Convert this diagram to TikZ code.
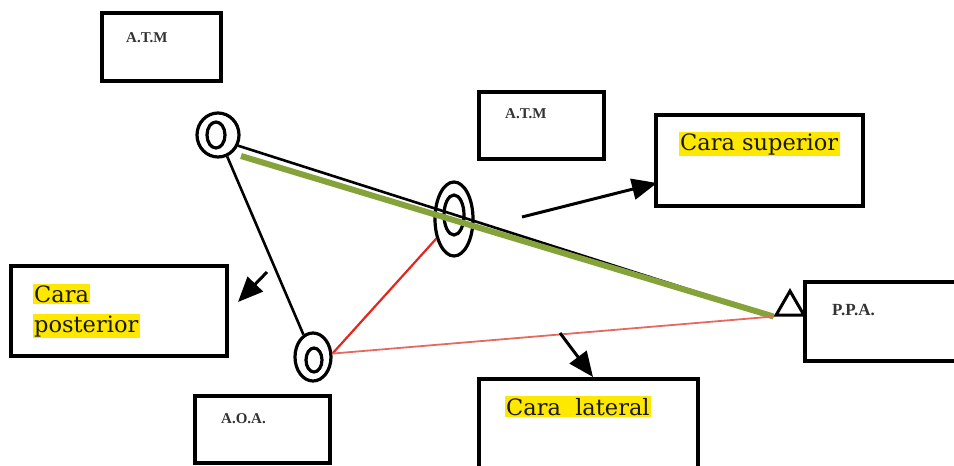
\documentclass[tikz,border=0pt]{standalone}
\usepackage{fontspec}
\setmainfont{Liberation Serif}
\newfontfamily\caraface{DejaVu Serif}
\usetikzlibrary{shapes.geometric,arrows.meta}
\definecolor{hlyellow}{RGB}{255,232,0}
\definecolor{olivegreen}{RGB}{134,162,58}
\definecolor{linkred}{RGB}{226,40,30}
\definecolor{palered}{RGB}{230,105,95}
\newcommand\hlword[1]{{\setlength\fboxsep{1.5pt}\colorbox{hlyellow}{#1}}}

\begin{document}
\begin{tikzpicture}[x=1pt,y=-1pt,
  box/.style={draw,line width=3.4pt,inner sep=0pt},
  tag/.style={anchor=base west,inner sep=0pt,font=\fontsize{15}{17}\selectfont\bfseries,text=black!80},
  face/.style={anchor=base west,inner sep=0pt,font=\caraface\fontsize{22.5}{30}\selectfont,text=black!90},
  ring/.style={draw,ellipse,line width=3.2pt,inner sep=0pt},
  pointer/.style={line width=3pt,-{Triangle[length=25pt,width=21pt]}}]

\useasboundingbox (0,0) rectangle (954,466);

% label boxes
\node[box,minimum width=119pt,minimum height=68pt] (atmA) at (161.5,47) {};
\node[box,minimum width=125pt,minimum height=67pt] (atmB) at (541.5,125.5) {};
\node[box,minimum width=207pt,minimum height=91pt] (sup) at (759.5,160.5) {};
\node[box,minimum width=216pt,minimum height=90pt] (post) at (119,311) {};
\node[box,minimum width=170pt,minimum height=79pt] (ppa) at (890,321.5) {};
\node[box,minimum width=135pt,minimum height=67pt] (aoa) at (262.5,429.5) {};
\node[box,minimum width=219pt,minimum height=101pt] (lat) at (588.5,429.5) {};

% box texts
\node[tag] (tA) at (126,42) {A.T.M};
\node[tag] (tB) at (505,118) {A.T.M};
\node[tag,font=\fontsize{17}{19}\selectfont\bfseries] (tP) at (832,315) {P.P.A.};
\node[tag] (tO) at (221,423) {A.O.A.};
\node[face] (tSup) at (678.5,150) {\hlword{Cara superior}};
\node[face] (tPostA) at (32.5,302) {\hlword{Cara}};
\node[face] (tPostB) at (32.5,332) {\hlword{posterior}};
\node[face] (tLat) at (504.5,415) {\hlword{Cara\ \ lateral}};

% joint markers
\node[ring,minimum width=42pt,minimum height=44pt] (c1) at (218,135) {};
\node[ring,minimum width=18pt,minimum height=26pt] (c1in) at (216,135) {};
\node[ring,minimum width=38pt,minimum height=74pt] (c2) at (454,219) {};
\node[ring,minimum width=20pt,minimum height=40pt] (c2in) at (454,215) {};
\node[ring,minimum width=36pt,minimum height=48pt] (c3) at (313,357) {};
\node[ring,minimum width=16pt,minimum height=24pt] (c3in) at (314,360) {};
\node[draw,regular polygon,regular polygon sides=3,minimum size=32pt,
      inner sep=0pt,line width=3pt] (tri) at (790,307) {};

% connecting lines
\coordinate (g0) at (241,156);
\draw[line width=2.6pt] (c1.-28) -- (tri.corner 2);
\draw[olivegreen,line width=6pt] (g0) -- (tri.corner 2);
\draw[line width=2.6pt] (c1) -- (c3);
\draw[linkred,line width=2.2pt] (c2) -- (c3.10);
\draw[palered,line width=1.8pt] (c3.10) -- (tri.corner 2);

% pointers to the face labels
\coordinate (supTail) at (522,217);
\coordinate (supTip) at (657,183);
\coordinate (postTail) at (267,272);
\coordinate (postTip) at (238,302);
\coordinate (latTail) at (560,333);
\coordinate (latTip) at (593,377);
\draw[pointer] (supTail) -- (supTip);
\draw[pointer] (postTail) -- (postTip);
\draw[pointer] (latTail) -- (latTip);
\end{tikzpicture}
\end{document}
